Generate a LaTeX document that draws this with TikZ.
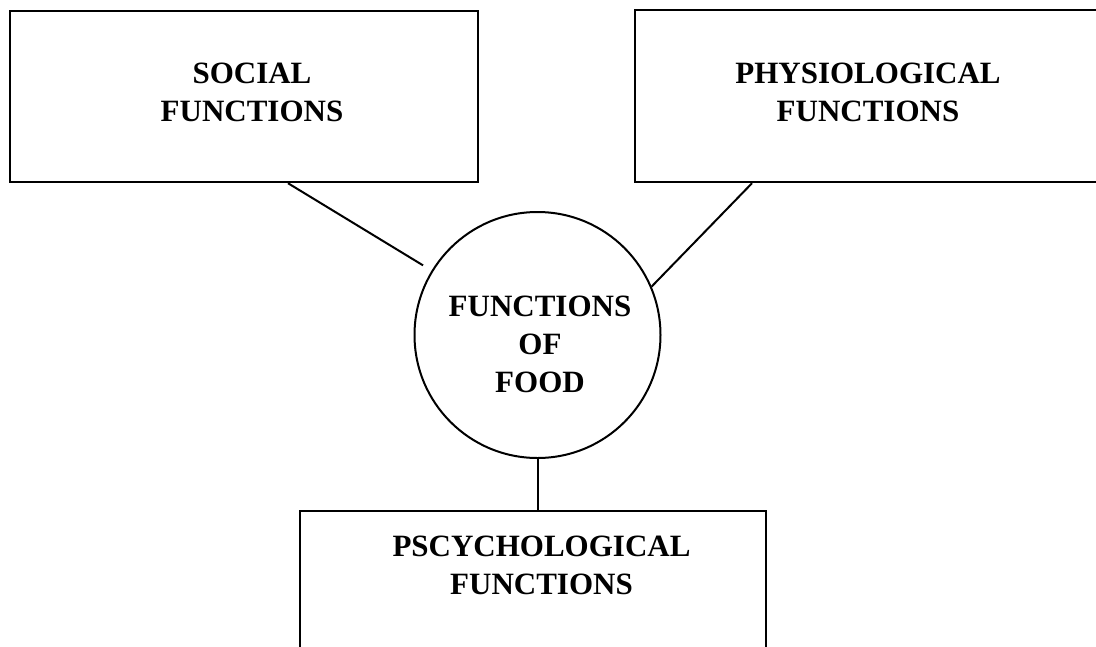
\documentclass[tikz,border=0pt]{standalone}
\usepackage{fontspec}
\setmainfont{Liberation Serif}
\usepackage{tikz}
\usetikzlibrary{positioning}

\begin{document}
\begin{tikzpicture}[
        x=1pt, y=-1pt,
        fnbox/.style={rectangle, draw=black, line width=2.4pt, inner sep=0pt},
        hub/.style={circle, draw=black, line width=2pt, minimum size=246pt, inner sep=0pt},
        fntext/.style={align=center, inner sep=0pt, font=\fontsize{31}{38}\selectfont\bfseries},
        link/.style={line width=2pt}
    ]
    \path[use as bounding box, clip] (0,0) rectangle (1096,646);

    % Social box
    \node[fnbox, minimum width=468pt, minimum height=171pt] at (244,96.5) (social) {};
    \node[fntext] at (252,92.5) (socialtext) {SOCIAL\\FUNCTIONS};

    % Physiological box
    \node[fnbox, minimum width=470pt, minimum height=172pt] at (870,96) (physio) {};
    \node[fntext] at (868,92.5) (physiotext) {PHYSIOLOGICAL\\FUNCTIONS};

    % Centre circle
    \node[hub] at (537.5,335) (food) {};
    \node[fntext] at (540,344) (foodtext) {FUNCTIONS\\OF\\FOOD};

    % Psychological box
    \node[fnbox, minimum width=466pt, minimum height=209pt] at (533,615.5) (psycho) {};
    \node[fntext] at (541.5,565) (psychotext) {PSCYCHOLOGICAL\\FUNCTIONS};

    % Links
    \draw[link, shorten >=10pt] ([xshift=44pt]social.south) -- (food);
    \draw[link] ([xshift=-118pt]physio.south) -- (food.23);
    \draw[link] (food.south) -- (food.south |- psycho.north);

\end{tikzpicture}
\end{document}
